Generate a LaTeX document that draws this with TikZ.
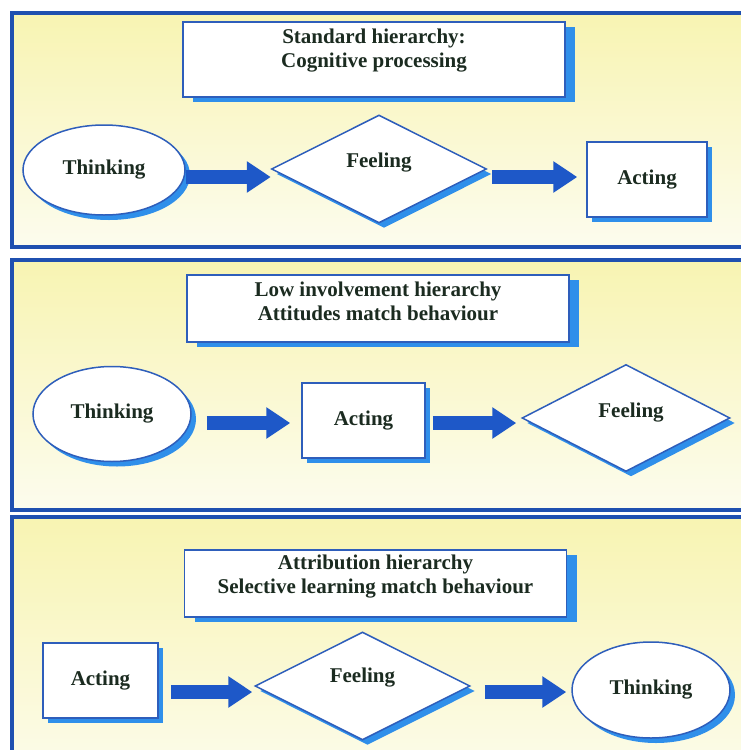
\documentclass[tikz,border=0pt]{standalone}
\usepackage{fontspec}
\setmainfont{Liberation Serif}
\usetikzlibrary{shapes.geometric,shadows,arrows.meta}
\definecolor{bordb}{HTML}{1F50B0}
\definecolor{lineb}{HTML}{2E5EBB}
\definecolor{shadb}{HTML}{2F8FEA}
\definecolor{arrb}{HTML}{1E58C8}
\definecolor{ylw}{HTML}{F8F4B2}
\definecolor{ylw2}{HTML}{FCFCEE}
\definecolor{txt}{HTML}{1B2B20}
\begin{document}
\begin{tikzpicture}[x=1pt,y=-1pt,
  panel/.style={draw=bordb, line width=3.5pt, top color=ylw, bottom color=ylw2},
  txtstyle/.style={text=txt, font=\fontsize{21}{24}\selectfont\bfseries, align=center, inner sep=0pt},
  shad/.style={drop shadow={shadow xshift=5pt, shadow yshift=-5pt, fill=shadb, opacity=1}},
  titlebox/.style={draw=lineb, line width=1.8pt, fill=white, rectangle, inner sep=0pt,
    minimum width=382pt, minimum height=#1,
    drop shadow={shadow xshift=10pt, shadow yshift=-5pt, fill=shadb, opacity=1}},
  thinkbox/.style={ellipse, draw=lineb, line width=1.5pt, fill=white, shad, txtstyle},
  actbox/.style={rectangle, draw=lineb, line width=1.5pt, fill=white, shad, txtstyle},
  feelbox/.style={diamond, draw=lineb, line width=1.5pt, fill=white, shad, inner sep=0pt},
  blockarr/.style={draw=arrb, line width=14pt, -{Triangle[length=24pt, width=30pt]}}
]
\useasboundingbox (0,0) rectangle (741,750);
\fill[white] (0,0) rectangle (741,750);

% panels
\draw[panel] (12,13) rectangle (790,247);
\draw[panel] (12,260) rectangle (790,510);
\draw[panel] (12,517) rectangle (790,790);

% ---------- panel 1 ----------
\node[titlebox=75pt, label={[txtstyle, yshift=9pt]center:Standard hierarchy:\\Cognitive processing}] (t1) at (374,59.5) {};
\node[thinkbox, minimum width=162pt, minimum height=90pt] (th1) at (104,170) {Thinking};
\node[feelbox, minimum width=215pt, minimum height=108pt, label={[txtstyle, yshift=6pt]center:Feeling}] (fe1) at (379,169) {};
\node[actbox, minimum width=120pt, minimum height=75pt] (ac1) at (647,179.5) {Acting};
\coordinate (ya) at (0,177);
\draw[blockarr] (th1.east |- ya) -- (fe1.west |- ya);
\draw[blockarr, shorten <=5pt, shorten >=9pt] (fe1.east |- ya) -- (ac1.west |- ya);

% ---------- panel 2 ----------
\node[titlebox=67pt, label={[txtstyle, yshift=7pt]center:Low involvement hierarchy\\Attitudes match behaviour}] (t2) at (378,308.5) {};
\node[thinkbox, minimum width=158pt, minimum height=95pt] (th2) at (112,414) {Thinking};
\node[actbox, minimum width=123pt, minimum height=75pt] (ac2) at (363.5,420.5) {Acting};
\node[feelbox, minimum width=208pt, minimum height=107pt, label={[txtstyle, yshift=5pt, xshift=5pt]center:Feeling}] (fe2) at (626,418) {};
\coordinate (yb) at (0,423);
\draw[blockarr, shorten <=15pt, shorten >=11pt] (th2.east |- yb) -- (ac2.west |- yb);
\draw[blockarr, shorten <=7pt, shorten >=5pt] (ac2.east |- yb) -- (fe2.west |- yb);

% ---------- panel 3 ----------
\node[titlebox=67pt, label={[txtstyle, yshift=7pt]center:Attribution hierarchy\\Selective learning match behaviour}] (t3) at (375.5,583.5) {};
\node[actbox, minimum width=115pt, minimum height=75pt] (ac3) at (100.5,680.5) {Acting};
\node[feelbox, minimum width=215pt, minimum height=108pt, label={[txtstyle, yshift=8pt]center:Feeling}] (fe3) at (362.5,686) {};
\node[thinkbox, minimum width=158pt, minimum height=96pt] (th3) at (651,690) {\raisebox{5pt}{Thinking}};
\coordinate (yc) at (0,692);
\draw[blockarr, shorten <=12pt, shorten >=2pt] (ac3.east |- yc) -- (fe3.west |- yc);
\draw[blockarr, shorten <=14pt, shorten >=5pt] (fe3.east |- yc) -- (th3.west |- yc);
\end{tikzpicture}
\end{document}
